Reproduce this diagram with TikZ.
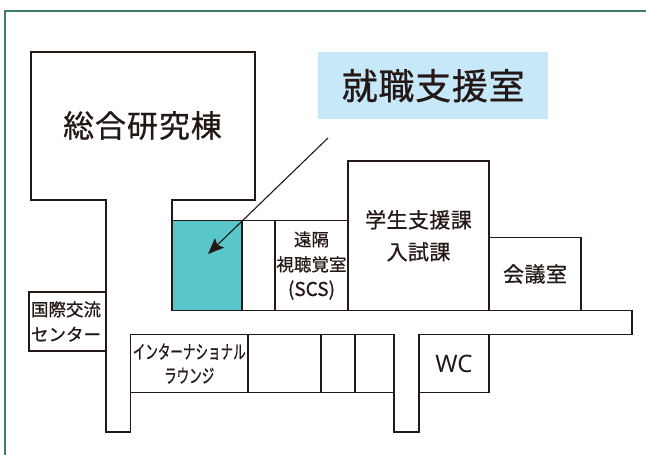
\documentclass[tikz,border=0pt]{standalone}
\usepackage{fontspec}
\setmainfont{Noto Sans CJK JP}[FakeBold=0.7]
\newfontfamily\latinf{Noto Sans}
\usetikzlibrary{arrows.meta}
\definecolor{ink}{HTML}{231815}
\definecolor{teal1}{HTML}{59C6C9}
\definecolor{sky1}{HTML}{C7E8F9}
\definecolor{frame1}{HTML}{3F7D63}
\newcommand{\fsz}[2]{\fontsize{#1}{#2}\selectfont}
\tikzset{
  x=1pt,y=-1pt,
  wall/.style={draw=ink,line width=1.1pt,line join=miter},
  room/.style={wall,inner sep=0pt,outer sep=0pt,align=center,text=ink,anchor=north west},
  lbl/.style={inner sep=0pt,align=center,text=ink},
}
\begin{document}
\begin{tikzpicture}
\useasboundingbox (0,0) rectangle (646,455);
% outer frame
\draw[frame1,line width=2pt] (4.5,455) -- (4.5,11) -- (646,11);
% main outline
\draw[wall] (106,351) -- (106,200) -- (31,200) -- (31,52) -- (255,52) -- (255,200) -- (172,200) -- (172,220.5);
\draw[wall] (172,310.5) -- (632,310.5) -- (632,334.5) -- (419,334.5);
\draw[wall] (106,351) -- (106,432) -- (130.5,432) -- (130.5,334.5);
\draw[wall] (394,334.5) -- (394,432) -- (419,432) -- (419,334.5);
\node[lbl,font=\fsz{31}{32}\addfontfeature{LetterSpace=3}] (bldg) at (142.5,125.5) {総合研究棟};
% rooms
\node[room,fill=teal1,minimum width=70pt,minimum height=90pt] (career) at (172,220.5) {};
\node[room,minimum width=33pt,minimum height=90pt] (blank) at (242,220.5) {};
\node[room,minimum width=73pt,minimum height=90pt,font=\fsz{17.5}{25}] (scs) at (275,220.5) {遠隔\\視聴覚室\\{\fsz{19}{25}(SCS)}};
\node[room,minimum width=141pt,minimum height=149.5pt,font=\fsz{21}{32}\addfontfeature{LetterSpace=2}] (student) at (348,161) {学生支援課\\入試課};
\node[room,minimum width=92pt,minimum height=73pt,font=\fsz{21}{24}\addfontfeature{LetterSpace=2}] (meeting) at (489,237.5) {会議室};
\node[room,minimum width=77pt,minimum height=59pt,font=\fsz{17.5}{25}] (intl) at (29,292) {\hspace*{-3pt}国際交流\hspace*{0pt}\\\hspace*{-3pt}センター};
\node[room,minimum width=117.5pt,minimum height=58pt,font=\fsz{19}{24}] (lounge) at (130.5,334.5) {\scalebox{0.66}[1]{インターナショナル}\\\scalebox{0.66}[1]{ラウンジ}};
\node[room,minimum width=73pt,minimum height=58pt] (r1) at (248,334.5) {};
\node[room,minimum width=34pt,minimum height=58pt] (r2) at (321,334.5) {};
\node[room,minimum width=39pt,minimum height=58pt] (r3) at (355,334.5) {};
\node[room,minimum width=70pt,minimum height=58pt,font=\fsz{24}{26}\latinf] (wc) at (419,334.5) {WC};
% label and arrow
\node[fill=sky1,inner sep=0pt,minimum width=230pt,minimum height=67pt,anchor=north west,text=ink,font=\fsz{36}{36}\addfontfeature{LetterSpace=2}] (title) at (318,52) {就職支援室};
\coordinate (arrowfrom) at (328,138);
\coordinate (arrowto) at (208,254);
\draw[ink,line width=1.1pt,-{Stealth[length=16pt,width=13pt,inset=3pt]}] (arrowfrom) -- (arrowto);
\end{tikzpicture}
\end{document}
